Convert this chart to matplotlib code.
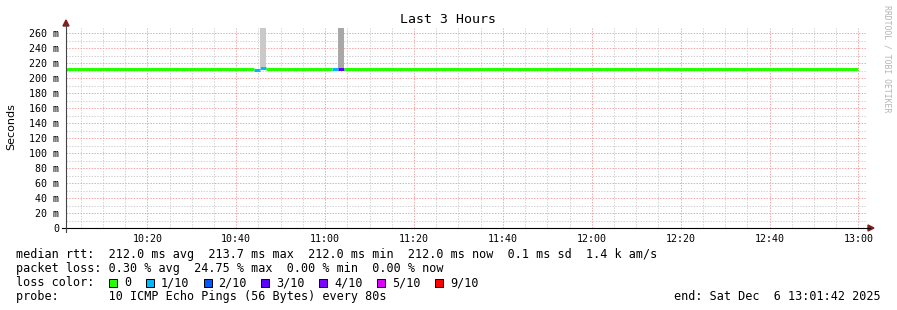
import matplotlib
matplotlib.use("Agg")
import matplotlib.pyplot as plt
from matplotlib.patches import Polygon, Rectangle
from matplotlib.lines import Line2D
from matplotlib.ticker import FixedLocator, MultipleLocator

# ---------------- data ----------------
start_time = "10:01:42"
end_time = "13:01:42"
last_data_time = "13:00:00"

# median rtt (ms) segments: start time, median value, lost pings (of 10)
seg_start = ["10:01:42", "10:44:00", "10:45:20", "10:46:40", "11:01:30", "11:02:50", "11:04:10"]
seg_median = [212.0, 211.0, 213.8, 212.0, 212.0, 212.0, 212.0]
seg_loss = [0, 1, 1, 0, 1, 3, 0]

# smoke (ping spread) columns
smoke_start = ["10:45:20", "11:02:50"]
smoke_end = ["10:46:40", "11:04:10"]
smoke_low = [215.0, 213.5]
smoke_high = [300.0, 300.0]
smoke_color = ["#c9c9c9", "#a8a8a8"]

y_ticks = [0, 20, 40, 60, 80, 100, 120, 140, 160, 180, 200, 220, 240, 260]
y_tick_labels = ["0", "20 m", "40 m", "60 m", "80 m", "100 m", "120 m", "140 m",
                 "160 m", "180 m", "200 m", "220 m", "240 m", "260 m"]
x_tick_labels = ["10:20", "10:40", "11:00", "11:20", "11:40", "12:00", "12:20", "12:40", "13:00"]
y_max = 266.7

loss_levels = [0, 1, 2, 3, 4, 5, 9]
loss_labels = ["0", "1/10", "2/10", "3/10", "4/10", "5/10", "9/10"]
loss_colors = ["#26ff00", "#00b8ff", "#0059ff", "#5e00ff", "#7e00ff", "#dd00ff", "#ff0000"]

row_median = "median rtt:  212.0 ms avg  213.7 ms max  212.0 ms min  212.0 ms now  0.1 ms sd  1.4 k am/s"
row_loss = "packet loss: 0.30 % avg  24.75 % max  0.00 % min  0.00 % now"
row_probe = "probe:       10 ICMP Echo Pings (56 Bytes) every 80s"
end_text = "end: Sat Dec  6 13:01:42 2025"
title = "Last 3 Hours"
y_label = "Seconds"
watermark = "RRDTOOL / TOBI OETIKER"

# ---------------- helpers ----------------
W, H, DPI = 897, 310, 100


def hms(s):
    parts = [int(v) for v in s.split(":")]
    while len(parts) < 3:
        parts.append(0)
    return parts[0] * 60 + parts[1] + parts[2] / 60.0


def fx(x):
    return x / W


def fy(y):
    return 1 - y / H


plt.rcParams["font.family"] = ["DejaVu Sans Mono"]

fig = plt.figure(figsize=(W / DPI, H / DPI), dpi=DPI, facecolor="white")

# plot area in pixels: x 66..866, y 28..228
ax = fig.add_axes([fx(66), fy(228), 800 / W, 200 / H])
ax.set_facecolor("white")
t0, t1 = hms(start_time), hms(end_time)
ax.set_xlim(t0, t1)
ax.set_ylim(0, y_max)

# grid
ax.xaxis.set_major_locator(FixedLocator([hms(t) for t in x_tick_labels]))
ax.xaxis.set_minor_locator(MultipleLocator(5))
ax.yaxis.set_major_locator(FixedLocator(y_ticks))
ax.yaxis.set_minor_locator(MultipleLocator(10))
ax.set_xticklabels(x_tick_labels)
ax.set_yticklabels(y_tick_labels)
ax.grid(which="minor", color="#d2d2d2", linestyle=(0, (1.4, 1.4)), linewidth=0.72)
ax.grid(which="major", color="#f2a6a6", linestyle=(0, (1.4, 1.4)), linewidth=0.72)
ax.set_axisbelow(True)
ax.tick_params(which="both", length=0)
ax.tick_params(axis="y", pad=5, labelsize=7.2)
ax.tick_params(axis="x", pad=4, labelsize=7.2)
for s in ax.spines.values():
    s.set_visible(False)

# smoke
for s, e, lo, hi, c in zip(smoke_start, smoke_end, smoke_low, smoke_high, smoke_color):
    ax.fill_between([hms(s), hms(e)], [lo, lo], [hi, hi], color=c, linewidth=0, zorder=2)

# median line coloured by loss
color_of = dict(zip(loss_levels, loss_colors))
seg_end = seg_start[1:] + [last_data_time]
for s, e, m, l in zip(seg_start, seg_end, seg_median, seg_loss):
    ax.hlines(m, hms(s), hms(e), colors=color_of[l], linewidth=2.16,
              capstyle="butt", zorder=3)

# axis lines and arrows
fig.add_artist(Line2D([fx(62), fx(870)], [fy(228), fy(228)], color="#000000",
                      linewidth=0.8, transform=fig.transFigure))
fig.add_artist(Line2D([fx(66), fx(66)], [fy(232), fy(24)], color="#444444",
                      linewidth=0.8, transform=fig.transFigure))
arrow_c = "#8b1a1a"
fig.add_artist(Polygon([[fx(63), fy(26)], [fx(69), fy(26)], [fx(66), fy(20)]],
                       closed=True, color=arrow_c, transform=fig.transFigure))
fig.add_artist(Polygon([[fx(868), fy(225)], [fx(868), fy(231)], [fx(874), fy(228)]],
                       closed=True, color=arrow_c, transform=fig.transFigure))

# texts
fig.text(fx(448), fy(19.5), title, ha="center", va="center", fontsize=9.5)
fig.text(fx(11), fy(127), y_label, ha="center", va="center", rotation=90,
         fontsize=8, family=["DejaVu Sans"])
fig.text(fx(887), fy(5), watermark, ha="center", va="top", rotation=270,
         fontsize=5.9, color="#b4b4b4")

leg_fs = 8.5
fig.text(fx(16), fy(254.5), row_median, ha="left", va="center", fontsize=leg_fs)
fig.text(fx(16), fy(268.5), row_loss, ha="left", va="center", fontsize=leg_fs)
fig.text(fx(16), fy(282.5), "loss color:", ha="left", va="center", fontsize=leg_fs)
fig.text(fx(16), fy(296.5), row_probe, ha="left", va="center", fontsize=leg_fs)
fig.text(fx(881), fy(296.5), end_text, ha="right", va="center", fontsize=leg_fs)

char_w = 7.1
bx = 109.0
for lab, col in zip(loss_labels, loss_colors):
    fig.add_artist(Rectangle((fx(bx), fy(286.5)), 8 / W, 8 / H, facecolor=col,
                             edgecolor="black", linewidth=0.72, transform=fig.transFigure))
    tx = bx + 15
    fig.text(fx(tx), fy(282.5), lab, ha="left", va="center", fontsize=leg_fs)
    bx = tx + len(lab) * char_w + 14.5

fig.savefig("out.png", dpi=DPI, facecolor="white")
